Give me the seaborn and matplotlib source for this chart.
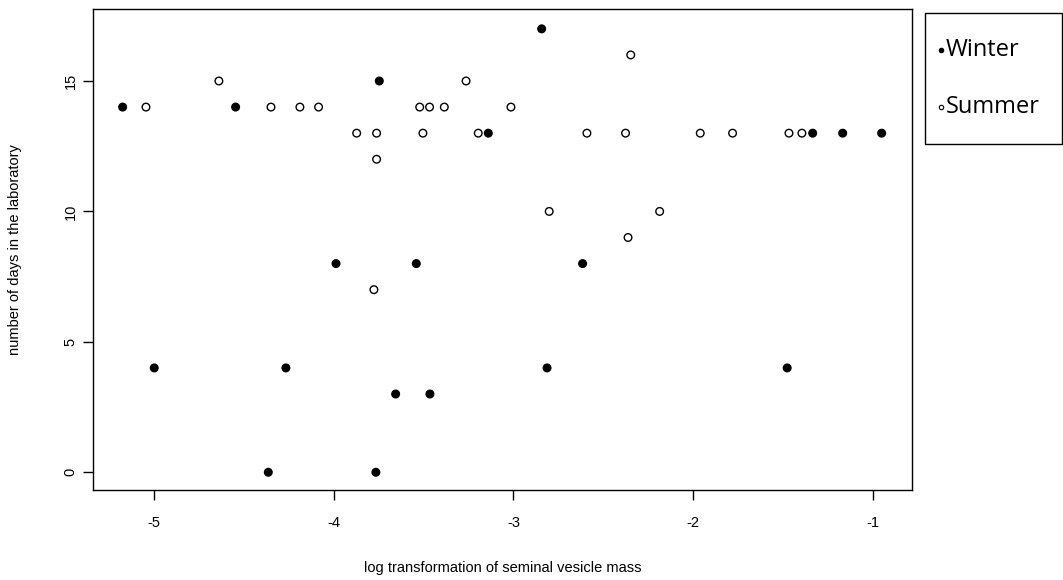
import numpy as np
import pandas as pd
import seaborn as sns
import matplotlib.pyplot as plt
from matplotlib.patches import Rectangle
from matplotlib.lines import Line2D

# values
winter_x = [-5.176, -4.547, -3.747, -3.140, -2.843, -1.334, -1.167, -0.950,
            -3.988, -3.541, -5.000, -4.267, -3.656, -3.465, -4.365, -3.766,
            -2.615, -2.813, -1.476]
winter_days = [14, 14, 15, 13, 17, 13, 13, 13,
               8, 8, 4, 4, 3, 3, 0, 0,
               8, 4, 4]

summer_x = [-5.046, -4.640, -4.350, -4.189, -4.085, -3.873, -3.762, -3.762,
            -3.522, -3.467, -3.385, -3.504, -3.264, -3.196, -3.014, -2.347,
            -2.591, -2.376, -1.960, -1.780, -1.466, -1.394, -2.801, -2.186,
            -2.362, -3.777]
summer_days = [14, 15, 14, 14, 14, 13, 13, 12,
               14, 14, 14, 13, 15, 13, 14, 16,
               13, 13, 13, 13, 13, 13, 10, 10,
               9, 7]

seasons = ["Winter", "Summer"]
x_ticks = [-5, -4, -3, -2, -1]
y_ticks = [0, 5, 10, 15]

df = pd.DataFrame({
    "mass": winter_x + summer_x,
    "days": winter_days + summer_days,
    "season": ["Winter"] * len(winter_x) + ["Summer"] * len(summer_x),
})

sns.set_theme(style="white")
plt.rcParams['font.family'] = ['Liberation Sans', 'DejaVu Sans']

W, H = 1063, 580
fig = plt.figure(figsize=(W / 100, H / 100), dpi=100)
fig.patch.set_facecolor("white")

# axes box in pixel terms: left 93, right 912, top 9, bottom 490
ax = fig.add_axes([93 / W, (H - 490) / H, (912 - 93) / W, (490 - 9) / H])

sns.scatterplot(data=df, x="mass", y="days", hue="season", hue_order=seasons,
                palette={"Winter": "black", "Summer": "white"},
                edgecolor="black", linewidth=1.0, s=30, legend=False, ax=ax)

ax.set_xlim(-5.341, -0.781)
ax.set_ylim(-0.68, 17.76)
ax.set_xticks(x_ticks)
ax.set_xticklabels([str(t) for t in x_ticks])
ax.set_yticks(y_ticks)
ax.set_yticklabels([str(t) for t in y_ticks], rotation=90, va="center")

for sp in ax.spines.values():
    sp.set_visible(True)
    sp.set_color("black")
    sp.set_linewidth(1.0)

ax.tick_params(axis="both", which="major", bottom=True, left=True,
               direction="out", length=7, width=1.0,
               color="black", labelsize=10.5, labelcolor="black")
ax.tick_params(axis="x", pad=12)
ax.tick_params(axis="y", pad=4)

ax.set_xlabel("log transformation of seminal vesicle mass", fontsize=10.5,
              color="black", labelpad=22)
ax.set_ylabel("number of days in the laboratory", fontsize=10.5,
              color="black", labelpad=30)

# legend box to the right of the plot
fig.patches.append(Rectangle((925 / W, (H - 144) / H), (1062 - 925) / W, (144 - 13) / H,
                             transform=fig.transFigure, facecolor="white",
                             edgecolor="black", linewidth=1.0))
for label, face, ypix in [("Winter", "black", 50), ("Summer", "white", 107)]:
    fig.add_artist(Line2D([941 / W], [(H - ypix) / H], marker="o", markersize=3.2,
                          markerfacecolor=face, markeredgecolor="black",
                          markeredgewidth=0.8, linestyle="none",
                          transform=fig.transFigure))
    fig.text(946 / W, (H - ypix) / H, label, fontsize=17, family=["Open Sans", "DejaVu Sans"],
             va="center", ha="left", color="black")

fig.savefig("out.png", dpi=100)
